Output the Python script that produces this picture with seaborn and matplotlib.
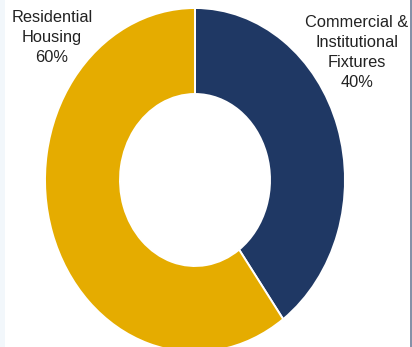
import matplotlib
matplotlib.use("Agg")
import matplotlib.pyplot as plt
from matplotlib.lines import Line2D
from matplotlib.patches import Rectangle
import seaborn as sns

# Segment data (clockwise from 12 o'clock)
segments = ["Commercial &\nInstitutional\nFixtures", "Residential\nHousing"]
shares = [40, 60]
colors = ["#1F3864", "#E5AC00"]

sns.set_theme(style="white")
plt.rcParams["font.family"] = ["Liberation Sans", "DejaVu Sans"]

W, H = 412, 347
fig = plt.figure(figsize=(W / 100, H / 100), dpi=100)
fig.patch.set_facecolor("white")

# Axes spans the ring's bounding box; the ring is taller than wide
cx, cy, rx, ry = 195, 180, 150, 172
ax = fig.add_axes([(cx - rx) / W, (H - cy - ry) / H, 2 * rx / W, 2 * ry / H])

palette = sns.color_palette(colors)
ax.pie(shares, colors=palette, startangle=90, counterclock=False,
       radius=1.0, wedgeprops=dict(width=0.5, edgecolor="white", linewidth=1.4))
ax.set_aspect("auto")
ax.set_xlim(-1, 1)
ax.set_ylim(-1, 1)
ax.axis("off")

# Category labels with their shares
label_style = dict(ha="center", va="top", fontsize=11.8, color="#222222",
                   linespacing=1.42)
fig.text(52 / W, 1 - 10 / H, f"{segments[1]}\n{shares[1]}%", **label_style)
fig.text(357 / W, 1 - 15 / H, f"{segments[0]}\n{shares[0]}%", **label_style)

# Frame accents at the edges
fig.add_artist(Rectangle((0, 0), 5 / W, 1, transform=fig.transFigure,
                         facecolor="#F2F7FB", edgecolor="none", zorder=-1))
fig.add_artist(Line2D([410.5 / W, 410.5 / W], [0, 1], transform=fig.transFigure,
                      color="#6E7B97", linewidth=1.2))

fig.savefig("out.png", dpi=100, facecolor="white")
